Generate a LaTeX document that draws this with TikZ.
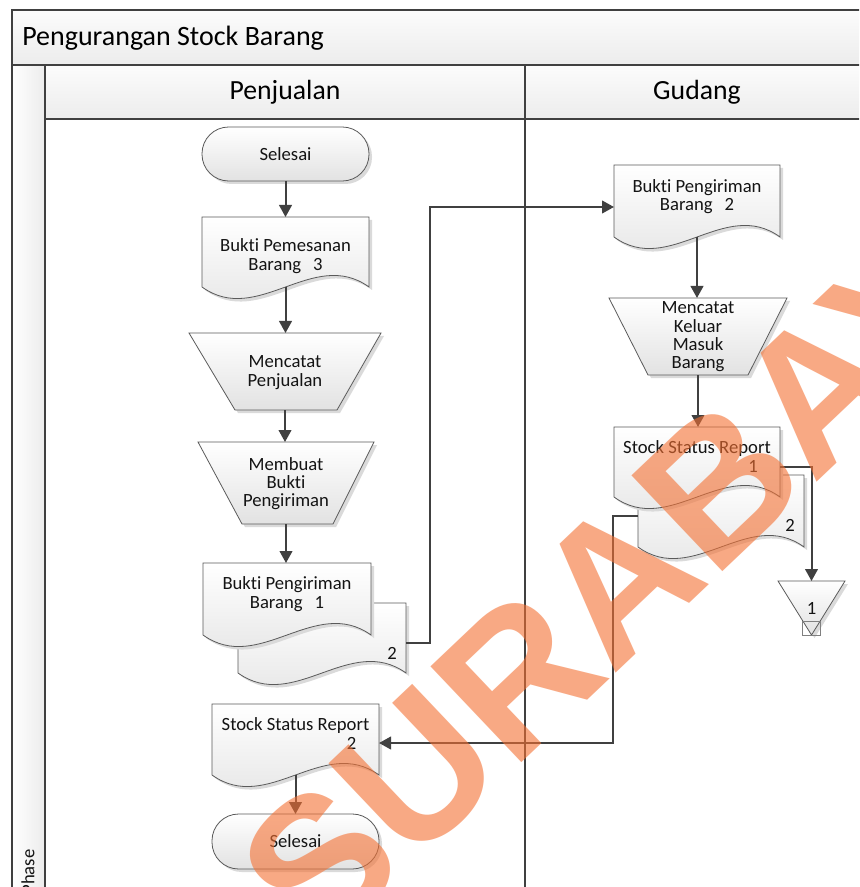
\documentclass[tikz,border=0pt]{standalone}
\usepackage{fontspec}
\setmainfont{Carlito}[Ligatures=NoCommon]
\newfontfamily\wmfont{Liberation Sans}
\usetikzlibrary{calc,fit,arrows.meta}

\definecolor{frameline}{RGB}{64,64,64}
\definecolor{shapeline}{RGB}{90,90,90}
\definecolor{arrowcol}{RGB}{64,64,64}
\definecolor{hdrtop}{RGB}{252,252,252}
\definecolor{hdrbot}{RGB}{236,236,236}
\definecolor{shapebot}{RGB}{226,226,226}
\definecolor{shadowcol}{RGB}{218,218,218}
\definecolor{textcol}{RGB}{20,20,20}
\definecolor{wmorange}{RGB}{244,112,50}

% outline of a document symbol (wavy lower edge)
\newcommand\docoutline[1]{(#1.south west) -- (#1.north west) -- (#1.north east) -- (#1.south east)
  .. controls ($(#1.south east)!0.3333!(#1.south west)+(0,-40)$) and ($(#1.south east)!0.6667!(#1.south west)+(0,40)$) .. (#1.south west) -- cycle}
% outline of a manual-operation trapezoid, bottom insets left/right
\newcommand\trapoutline[3]{(#1.north west) -- (#1.north east) -- ($(#1.south east)+(-#3,0)$) -- ($(#1.south west)+(#2,0)$) -- cycle}

\newcommand\drawdoc[1]{%
  \begin{scope}[transform canvas={shift={(3,3)}}]\fill[shadowcol] \docoutline{#1};\end{scope}
  \path[shapestyle] \docoutline{#1};}
\newcommand\drawtrap[3]{%
  \begin{scope}[transform canvas={shift={(3,3)}}]\fill[shadowcol] \trapoutline{#1}{#2}{#3};\end{scope}
  \path[shapestyle] \trapoutline{#1}{#2}{#3};}
\newcommand\drawterm[1]{%
  \begin{scope}[transform canvas={shift={(3,3)}}]\fill[shadowcol, rounded corners=20pt] (#1.south west) rectangle (#1.north east);\end{scope}
  \path[shapestyle, rounded corners=20pt] (#1.south west) rectangle (#1.north east);}

\begin{document}
\begin{tikzpicture}[x=0.75pt, y=-0.75pt,
  font=\fontsize{14}{13.7}\selectfont,
  box/.style={inner sep=0pt, outer sep=0pt},
  txt/.style={text=textcol, align=center, inner sep=0pt},
  hdr/.style={text=black, font=\fontsize{20.8}{24}\selectfont, inner sep=0pt},
  conn/.style={draw=arrowcol, line width=1.5pt, -{Triangle[length=9pt,width=9.5pt]}},
  framestyle/.style={draw=frameline, line width=1.2pt},
  shapestyle/.style={draw=shapeline, line width=0.6pt, top color=white, bottom color=shapebot},
  wm/.style={text=wmorange, text opacity=0.6, inner sep=0pt,
    font=\wmfont\bfseries\fontsize{144}{150}\selectfont}]

\useasboundingbox (0,0) rectangle (859,887);
\clip (0,0) rectangle (859,887);
\fill[white] (0,0) rectangle (859,887);

% ---------- pool frame ----------
\path[top color=hdrtop, bottom color=hdrbot] (12,10) rectangle (900,65);
\path[top color=hdrtop, bottom color=hdrbot] (45,65) rectangle (900,119);
\path[left color=white, right color=hdrbot] (12,65) rectangle (45,900);
\draw[framestyle] (900,10) -- (12,10) -- (12,900);
\draw[framestyle] (12,65) -- (900,65);
\draw[framestyle] (45,119) -- (900,119);
\draw[framestyle] (45,65) -- (45,900);
\draw[framestyle] (525,65) -- (525,900);

\node[hdr, anchor=west, font=\fontsize{21}{24}\selectfont] (title) at (22,38) {Pengurangan Stock Barang};
\node[hdr] (lane1) at (285,92) {Penjualan};
\node[hdr] (lane2) at (697,92) {Gudang};
\node[txt, rotate=90] (phase) at (28,872) {Phase};

% ---------- shape frames ----------
\node[box, fit={(202,127)(369,181)}] (s1) {};
\node[box, fit={(202,217)(369,287)}] (d1) {};
\node[box, fit={(189,333)(381,410)}] (t1) {};
\node[box, fit={(198,442)(374,524)}] (t2) {};
\node[box, fit={(238,603)(406,673)}] (bd4) {};
\node[box, fit={(203,563)(371,635)}] (d4) {};
\node[box, fit={(212,704)(379,775)}] (ssr2) {};
\node[box, fit={(212,814)(379,869)}] (s2) {};

\node[box, fit={(614,165)(780,237)}] (d3) {};
\node[box, fit={(609,298)(787,375)}] (t3) {};
\node[box, fit={(638,475)(804,547)}] (bssr1) {};
\node[box, fit={(614,427)(780,497)}] (ssr1) {};
\node[box, fit={(778,581)(845,635)}] (off) {};

% ---------- shapes ----------
\drawterm{s1}
\drawdoc{d1}
\drawtrap{t1}{46}{44}
\drawtrap{t2}{44}{41}
\drawdoc{bd4}
\drawdoc{d4}
\drawdoc{ssr2}
\drawterm{s2}

\drawdoc{d3}
\drawtrap{t3}{39}{39}
\drawdoc{bssr1}
\drawdoc{ssr1}

% off-page reference
\begin{scope}[transform canvas={shift={(3,3)}}]
  \fill[shadowcol] (off.north west) -- (off.north east) -- (off.south) -- cycle;
\end{scope}
\path[shapestyle] (off.north west) -- (off.north east) -- (off.south) -- cycle;
\draw[draw=gray, line width=0.6pt] ($(off.south)+(-9,-14)$) rectangle ($(off.south)+(9,0)$);

% ---------- texts ----------
\node[txt] (s1t) at (s1.center) {Selesai};
\node[txt] (d1t) at (285.5,256) {Bukti Pemesanan\\Barang\hspace{9pt}3};
\node[txt] (t1t) at (285,372.5) {Mencatat\\Penjualan};
\node[txt] (t2t) at (286,483.5) {Membuat\\Bukti\\Pengiriman};
\node[txt] (d4t) at (287,594) {Bukti Pengiriman\\Barang\hspace{9pt}1};
\node[txt] (bd4t) at (392,653) {2};
\node[txt] (ssr2t) at (295.5,733.5) {Stock Status Report\\\hspace*{84pt}2};
\node[txt] (s2t) at (s2.center) {Selesai};

\node[txt] (d3t) at (697,196.5) {Bukti Pengiriman\\Barang\hspace{9pt}2};
\node[txt] (t3t) at (698,336.8) {Mencatat\\Keluar\\Masuk\\Barang};
\node[txt] (ssr1t) at (697,456.5) {Stock Status Report\\\hspace*{84pt}1};
\node[txt] (bssr1t) at (790,525) {2};
\node[txt] (offt) at (811.5,608) {1};

% ---------- connectors ----------
\draw[conn] (s1.south) -- (s1.south |- d1.north);
\draw[conn] (d1.south) -- (d1.south |- t1.north);
\draw[conn] (t1.south) -- (t1.south |- t2.north);
\draw[conn] (t2.south) -- (t2.south |- d4.north);
\draw[conn] (ssr2.south) -- (ssr2.south |- s2.north);

\draw[conn] (d3.south) -- (d3.south |- t3.north);
\draw[conn] (t3.south) -- (t3.south |- ssr1.north);

\coordinate (bend1) at (430,207);
\draw[conn] ($(bd4.north east)!0.57!(bd4.south east)$) -| (bend1) -- (bend1 -| d3.west);
\coordinate (bend2) at (613,743);
\draw[conn] ($(bssr1.north west)!0.57!(bssr1.south west)$) -| (bend2) -- (bend2 -| ssr2.east);
\draw[conn] ($(ssr1.north east)!0.57!(ssr1.south east)$) -| (off.north);

% ---------- watermark ----------
\node[wm, rotate=43.5] (wmark) at (655,545) {SURABAYA};
\end{tikzpicture}
\end{document}
